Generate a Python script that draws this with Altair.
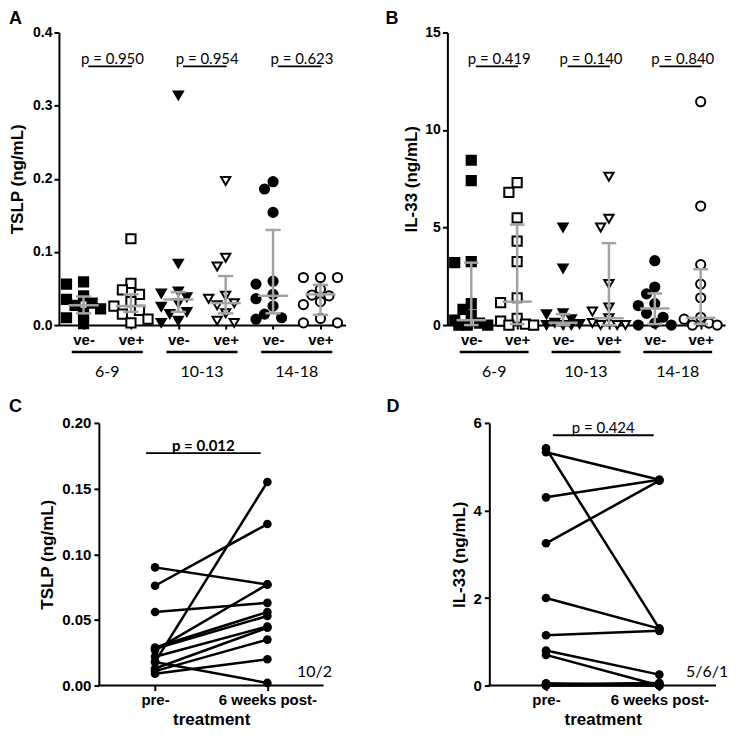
import altair as alt
import pandas as pd

FONT = "Liberation Sans"
LFONT = "Lato"
GRAY = "#a3a3a3"

AGE_GROUPS = ["6-9", "10-13", "14-18"]
STATUS = ["ve-", "ve+"]
SHAPES = ["square", "triangle-down", "circle"]

# ---- Panel A: TSLP (ng/mL) by age group and status ----
tslp_69_neg = [0.059, 0.056, 0.040, 0.035, 0.030, 0.027, 0.022, 0.016, 0.010, 0.002]
tslp_69_pos = [0.118, 0.057, 0.048, 0.042, 0.032, 0.026, 0.020, 0.015, 0.008, 0.003]
tslp_1013_neg = [0.314, 0.084, 0.046, 0.043, 0.038, 0.030, 0.025, 0.018, 0.015, 0.006, 0.003]
tslp_1013_pos = [0.197, 0.092, 0.080, 0.040, 0.036, 0.030, 0.027, 0.016, 0.006, 0.003]
tslp_1418_neg = [0.196, 0.186, 0.154, 0.060, 0.056, 0.042, 0.036, 0.026, 0.015, 0.010, 0.008]
tslp_1418_pos = [0.065, 0.065, 0.065, 0.049, 0.041, 0.040, 0.032, 0.028, 0.009, 0.003, 0.003]
tslp_median = [0.027, 0.026, 0.035, 0.030, 0.040, 0.042]
tslp_q1 = [0.016, 0.018, 0.018, 0.016, 0.016, 0.014]
tslp_q3 = [0.039, 0.042, 0.045, 0.067, 0.130, 0.055]
tslp_pvals = ["p = 0.950", "p = 0.954", "p = 0.623"]

# ---- Panel B: IL-33 (ng/mL) by age group and status ----
il33_69_neg = [8.45, 7.4, 3.25, 3.2, 1.1, 0.8, 0.5, 0.25, 0.1, 0.0, 0.0, 0.0]
il33_69_pos = [7.3, 6.8, 5.5, 4.3, 3.25, 1.4, 1.15, 0.35, 0.2, 0.05, 0.0, 0.0]
il33_1013_neg = [5.0, 2.9, 0.6, 0.55, 0.3, 0.12, 0.05, 0.0, 0.0, 0.0]
il33_1013_pos = [7.6, 5.45, 5.0, 2.1, 0.9, 0.7, 0.35, 0.1, 0.0, 0.0, 0.0]
il33_1418_neg = [3.3, 1.95, 1.6, 1.1, 1.0, 0.6, 0.4, 0.1, 0.0, 0.0]
il33_1418_pos = [11.45, 6.1, 3.1, 2.1, 1.4, 0.4, 0.3, 0.1, 0.0, 0.0]
il33_median = [0.25, 1.2, 0.12, 0.35, 0.85, 0.37]
il33_q1 = [0.0, 0.05, 0.0, 0.0, 0.05, 0.05]
il33_q3 = [3.2, 5.15, 0.56, 4.2, 1.62, 2.86]
il33_pvals = ["p = 0.419", "p = 0.140", "p = 0.840"]

# ---- Panel C: TSLP pre / 6 weeks post treatment (paired) ----
tslp_pre = [0.090, 0.076, 0.056, 0.018, 0.027, 0.018, 0.029, 0.028, 0.022, 0.013, 0.011, 0.009]
tslp_post = [0.077, 0.123, 0.063, 0.155, 0.077, 0.002, 0.056, 0.053, 0.045, 0.044, 0.035, 0.020]

# ---- Panel D: IL-33 pre / 6 weeks post treatment (paired) ----
il33_pre = [5.33, 5.42, 4.3, 3.25, 2.0, 1.15, 0.8, 0.7, 0.05, 0.0, 0.03, 0.0]
il33_post = [4.7, 1.3, 4.7, 4.68, 1.3, 1.25, 0.25, 0.0, 0.0, 0.05, 0.06, 0.0]

TIMEPOINTS = ["pre-", "6 weeks post-"]


def swarm(vals, ppx, ppy, d=10.0):
    cands = [0, -0.18, 0.18, -0.36, 0.36, -0.09, 0.09, -0.27, 0.27]
    placed = []
    offs = [0.0] * len(vals)
    order = sorted(range(len(vals)), key=lambda i: -vals[i])
    for i in order:
        best, bestd, bestc = None, -1, 0
        for c in cands:
            md = min([(((c - o) * ppx) ** 2 + ((vals[i] - v) * ppy) ** 2) ** 0.5
                      for o, v in placed] or [1e9])
            if md >= d:
                best = c
                break
            if md > bestd:
                bestd, bestc = md, c
        if best is None:
            best = bestc
        offs[i] = best
        placed.append((best, vals[i]))
    return offs


def group_panel(cols, med, q1, q3, ymax, yticks, yfmt, ytitle, pvals, letter,
                W, H, ldx, ldy, title_pad):
    nx = 6.05
    pos = [i + 0.52 for i in range(6)]
    ppx, ppy = W / nx, H / ymax
    rows = []
    for i, vals in enumerate(cols):
        offs = swarm(vals, ppx, ppy)
        for v, o in zip(vals, offs):
            rows.append({"x": pos[i] + o, "y": v,
                         "age": AGE_GROUPS[i // 2], "status": STATUS[i % 2]})
    pts = pd.DataFrame(rows)

    xscale = alt.Scale(domain=[0, nx], nice=False, zero=False)
    yscale = alt.Scale(domain=[0, ymax], nice=False, zero=True)
    xaxis = alt.Axis(values=pos,
                     labelExpr="round(datum.value - 0.52) % 2 == 0 ? 've-' : 've+'",
                     labelFontSize=15, tickSize=4, labelPadding=3, title=None)
    yaxis = alt.Axis(values=yticks, format=yfmt, labelFontSize=14, tickSize=5,
                     labelPadding=2, title=ytitle, titleFontSize=17,
                     titlePadding=title_pad)

    def X(f):
        return alt.X(f, scale=xscale, axis=xaxis)

    def Y(f):
        return alt.Y(f, scale=yscale, axis=yaxis)

    points = alt.Chart(pts).mark_point(
        filled=True, opacity=1, stroke="black", strokeWidth=2, size=85
    ).encode(
        x=X("x:Q"), y=Y("y:Q"),
        shape=alt.Shape("age:N", scale=alt.Scale(domain=AGE_GROUPS, range=SHAPES), legend=None),
        fill=alt.Fill("status:N", scale=alt.Scale(domain=STATUS, range=["black", "white"]), legend=None),
    )

    st = pd.DataFrame({"x": pos, "med": med, "q1": q1, "q3": q3})
    st["cl"] = st["x"] - 0.16
    st["cr"] = st["x"] + 0.16
    st["ml"] = st["x"] - 0.32
    st["mr"] = st["x"] + 0.32
    base = alt.Chart(st).mark_rule(color=GRAY, strokeWidth=2.5)
    iqr = base.encode(x=X("x:Q"), y=Y("q1:Q"), y2=alt.Y2("q3:Q"))
    cap_lo = base.encode(x=X("cl:Q"), x2=alt.X2("cr:Q"), y=Y("q1:Q"))
    cap_hi = base.encode(x=X("cl:Q"), x2=alt.X2("cr:Q"), y=Y("q3:Q"))
    medl = base.encode(x=X("ml:Q"), x2=alt.X2("mr:Q"), y=Y("med:Q"))

    pv = pd.DataFrame({
        "label": pvals,
        "lx": [pos[2 * k] + 0.1 for k in range(3)],
        "rx": [pos[2 * k + 1] + 0.02 for k in range(3)],
        "py": [ymax * 0.884] * 3,
    })
    pv["tx"] = (pv["lx"] + pv["rx"]) / 2 + 0.05
    pline = alt.Chart(pv).mark_rule(color="black", strokeWidth=1.8).encode(
        x=X("lx:Q"), x2=alt.X2("rx:Q"), y=Y("py:Q"))
    ptext = alt.Chart(pv).mark_text(font=LFONT, fontSize=15, baseline="alphabetic",
                                    dy=-2, color="black").encode(
        x=X("tx:Q"), y=Y("py:Q"), text="label:N")

    gd = pd.DataFrame({"age": AGE_GROUPS,
                       "c": [(pos[2 * k] + pos[2 * k + 1]) / 2 for k in range(3)]})
    gd["l"] = gd["c"] - 0.75
    gd["r"] = gd["c"] + 0.75
    under = alt.Chart(gd).mark_rule(color="black", strokeWidth=2.5).encode(
        x=X("l:Q"), x2=alt.X2("r:Q"), y=alt.value(H + 27))
    glab = alt.Chart(gd).mark_text(font=LFONT, fontSize=16, baseline="middle",
                                   color="black").encode(
        x=X("c:Q"), y=alt.value(H + 47), text="age:N")

    lab = alt.Chart(pd.DataFrame({"t": [letter]})).mark_text(
        font=FONT, fontSize=18, fontWeight="bold", align="left", baseline="top",
        color="black").encode(text="t:N", x=alt.value(ldx), y=alt.value(ldy))

    return alt.layer(points, iqr, cap_lo, cap_hi, medl, pline, ptext, under, glab,
                     lab).properties(width=W, height=H)


def paired_panel(pre, post, ymax, yticks, yfmt, ytitle, ptxt, pbold, plx, prx,
                 pyfrac, count, cdx, inset, w, H, letter, ldx, ldy):
    # the plot area starts `inset` px to the right of the view's left edge
    W = inset + w
    x0 = -inset * 2.0 / w
    rows = []
    for k, (a, b) in enumerate(zip(pre, post)):
        rows.append({"pair": k, "x": 0.5, "y": a})
        rows.append({"pair": k, "x": 1.5, "y": b})
    df = pd.DataFrame(rows)
    xscale = alt.Scale(domain=[x0, 2], nice=False, zero=False)
    yscale = alt.Scale(domain=[0, ymax], nice=False, zero=True)
    xaxis = alt.Axis(values=[0.5, 1.5],
                     labelExpr="datum.value < 1 ? '%s' : '%s'" % (TIMEPOINTS[0], TIMEPOINTS[1]),
                     labelFontSize=15, tickSize=5, labelPadding=2, domain=False,
                     title="treatment", titleFontSize=17, titlePadding=4,
                     titleX=inset + w / 2)
    yaxis = alt.Axis(values=yticks, format=yfmt, labelFontSize=15, tickSize=5,
                     labelPadding=3, title=ytitle, titleFontSize=17, titlePadding=5,
                     offset=-inset)

    def X(f):
        return alt.X(f, scale=xscale, axis=xaxis)

    def Y(f):
        return alt.Y(f, scale=yscale, axis=yaxis)

    lines = alt.Chart(df).mark_line(color="black", strokeWidth=2.5).encode(
        x=X("x:Q"), y=Y("y:Q"), detail="pair:N")
    pts = alt.Chart(df).mark_point(filled=True, color="black", opacity=1, size=75,
                                   shape="circle").encode(x=X("x:Q"), y=Y("y:Q"))
    xline = alt.Chart(pd.DataFrame({"d": [0]})).mark_rule(
        color="black", strokeWidth=2).encode(
        x=alt.value(inset - 1), x2=alt.value(W), y=alt.value(H))
    pv = pd.DataFrame({"label": [ptxt], "lx": [plx], "rx": [prx],
                       "tx": [(plx + prx) / 2], "py": [ymax * pyfrac]})
    pline = alt.Chart(pv).mark_rule(color="black", strokeWidth=1.8).encode(
        x=X("lx:Q"), x2=alt.X2("rx:Q"), y=Y("py:Q"))
    ptext = alt.Chart(pv).mark_text(font=LFONT, fontSize=15,
                                    fontWeight="bold" if pbold else "normal",
                                    baseline="alphabetic", dy=-2, color="black").encode(
        x=X("tx:Q"), y=Y("py:Q"), text="label:N")
    ctext = alt.Chart(pd.DataFrame({"t": [count]})).mark_text(
        font=LFONT, fontSize=16, baseline="middle", color="black").encode(
        text="t:N", x=alt.value(inset + cdx), y=alt.value(H - 14))
    lab = alt.Chart(pd.DataFrame({"t": [letter]})).mark_text(
        font=FONT, fontSize=18, fontWeight="bold", align="left", baseline="top",
        color="black").encode(text="t:N", x=alt.value(ldx), y=alt.value(ldy))
    return alt.layer(lines, pts, xline, pline, ptext, ctext, lab).properties(
        width=W, height=H)


A = group_panel([tslp_69_neg, tslp_69_pos, tslp_1013_neg, tslp_1013_pos,
                 tslp_1418_neg, tslp_1418_pos],
                tslp_median, tslp_q1, tslp_q3, 0.4, [0, 0.1, 0.2, 0.3, 0.4], ".1f",
                "TSLP (ng/mL)", tslp_pvals, "A", 287, 293, -50, -22, 6)
B = group_panel([il33_69_neg, il33_69_pos, il33_1013_neg, il33_1013_pos,
                 il33_1418_neg, il33_1418_pos],
                il33_median, il33_q1, il33_q3, 15, [0, 5, 10, 15], "d",
                "IL-33 (ng/mL)", il33_pvals, "B", 278, 293, -62, -22, 4)
C = paired_panel(tslp_pre, tslp_post, 0.2, [0, 0.05, 0.10, 0.15, 0.20], ".2f",
                 "TSLP (ng/mL)", "p = 0.012", True, 0.42, 1.44, 0.885, "10/2", 216,
                 40, 225, 263, "C", -50, -25)
D = paired_panel(il33_pre, il33_post, 6, [0, 2, 4, 6], "d",
                 "IL-33 (ng/mL)", "p = 0.424", False, 0.56, 1.45, 0.953, "5/6/1", 218,
                 41, 227, 263, "D", -62, -25)

top_row = alt.hconcat(A, B, spacing=39)
bottom_row = alt.hconcat(C, D, spacing=54)

chart = alt.vconcat(top_row, bottom_row, spacing=18).properties(
    padding={"top": 2, "left": 0, "right": 0, "bottom": 0}
).configure_view(
    stroke=None
).configure_axis(
    labelFont=FONT, titleFont=FONT, labelFontWeight="bold", titleFontWeight="bold",
    labelColor="black", titleColor="black", domainColor="black", tickColor="black",
    domainWidth=2, tickWidth=2, grid=False,
)

chart.save("out.html", embed_options={"renderer": "svg", "actions": False})
